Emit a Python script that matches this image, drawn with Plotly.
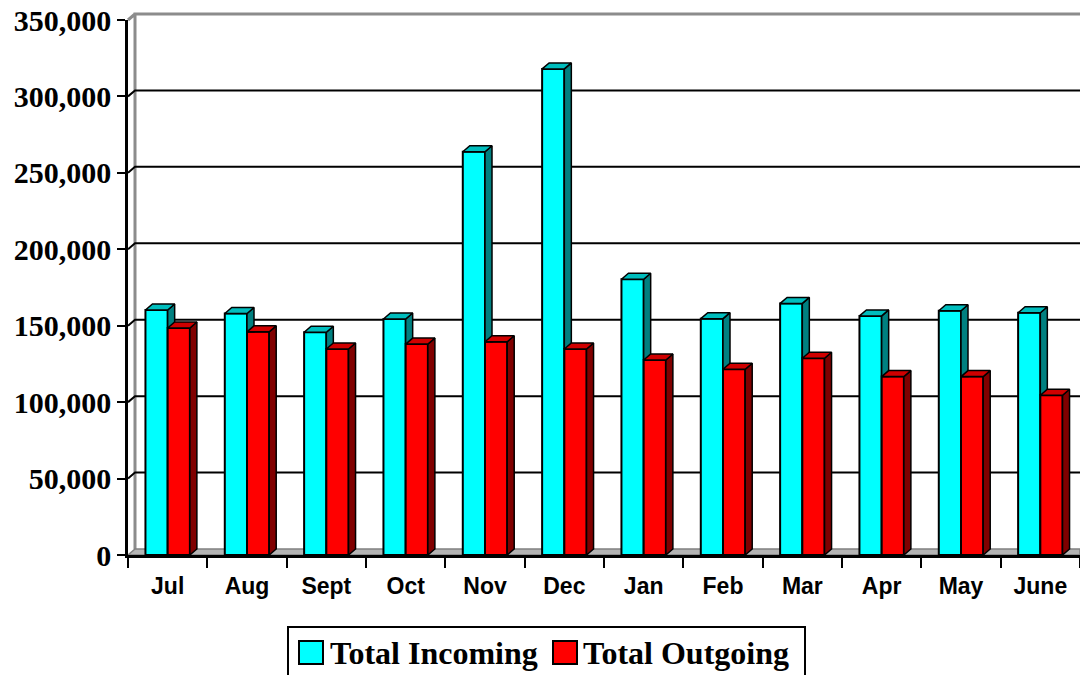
import plotly.graph_objects as go

# ---------------- data ----------------
months = ["Jul", "Aug", "Sept", "Oct", "Nov", "Dec", "Jan", "Feb", "Mar", "Apr", "May", "June"]
total_incoming = [160300, 158000, 145700, 154400, 263800, 318000, 180400, 154600, 164600, 156400, 159800, 158500]
total_outgoing = [148500, 146000, 134800, 138000, 139500, 134800, 127600, 121500, 128700, 116700, 116700, 104500]
y_tick_values = [0, 50000, 100000, 150000, 200000, 250000, 300000, 350000]
series_names = ["Total Incoming", "Total Outgoing"]

# ---------------- geometry ----------------
W, H = 1080, 675
ML, MR, MT, MB = 128, 0, 20, 120
plot_w = W - ML - MR
plot_h = H - MT - MB
n = len(months)
x_range = [-0.5, n - 0.5]
y_range = [0, y_tick_values[-1]]
px_per_x = plot_w / (x_range[1] - x_range[0])
px_per_y = plot_h / (y_range[1] - y_range[0])
DEPTH_X_PX, DEPTH_Y_PX = 7, 6
dx = DEPTH_X_PX / px_per_x
dy = DEPTH_Y_PX / px_per_y
bargap = 0.44
bw = (1 - bargap) / 2
xs = list(range(n))

inc_front, inc_side, inc_top = "#00FFFF", "#008080", "#00BDBD"
out_front, out_side, out_top = "#FF0000", "#800000", "#D00000"

serif = "Liberation Serif, Times New Roman, serif"
sans = "Liberation Sans, Arial, sans-serif"


def px_x(p):  # pixel -> paper x
    return (p - ML) / plot_w


def px_y(p):  # pixel -> paper y
    return (MT + plot_h - p) / plot_h


fig = go.Figure()

fig.add_trace(go.Bar(x=xs, y=total_incoming, offset=-bw, width=bw, name=series_names[0],
                     marker=dict(color=inc_front, line=dict(color="black", width=2))))
fig.add_trace(go.Bar(x=xs, y=total_outgoing, offset=0, width=bw, name=series_names[1],
                     marker=dict(color=out_front, line=dict(color="black", width=2))))


def poly_trace(px, py, color):
    return go.Scatter(x=px, y=py, mode="lines", fill="toself", fillcolor=color,
                      line=dict(color="black", width=1.5), showlegend=False, hoverinfo="skip")


# incoming side faces (only the part not hidden behind the outgoing bar)
sx, sy = [], []
for i, (v, vo) in enumerate(zip(total_incoming, total_outgoing)):
    if v > vo:
        sx += [i, i, i + dx, i + dx, i, None]
        sy += [vo, v, v + dy, vo, vo, None]
fig.add_trace(poly_trace(sx, sy, inc_side))

# incoming top faces
tx, ty = [], []
for i, v in enumerate(total_incoming):
    tx += [i - bw, i, i + dx, i - bw + dx, i - bw, None]
    ty += [v, v, v + dy, v + dy, v, None]
fig.add_trace(poly_trace(tx, ty, inc_top))

# outgoing side faces
sx, sy = [], []
for i, v in enumerate(total_outgoing):
    sx += [i + bw, i + bw, i + bw + dx, i + bw + dx, i + bw, None]
    sy += [0, v, v + dy, dy, 0, None]
fig.add_trace(poly_trace(sx, sy, out_side))

# outgoing top faces
tx, ty = [], []
for i, v in enumerate(total_outgoing):
    tx += [i, i + bw, i + bw + dx, i + dx, i, None]
    ty += [v, v, v + dy, v + dy, v, None]
fig.add_trace(poly_trace(tx, ty, out_top))

shapes = []
# floor
shapes.append(dict(type="path", xref="x", yref="y", layer="below",
                   path=f"M {x_range[0]},0 L {x_range[1]},0 L {x_range[1]},{dy} L {x_range[0] + dx},{dy} Z",
                   fillcolor="#b4b4b4", line=dict(color="#808080", width=1.5)))
# gridlines on the back wall
for v in y_tick_values[1:-1]:
    shapes.append(dict(type="path", xref="x", yref="y", layer="below",
                       path=f"M {x_range[0]},{v} L {x_range[0] + dx},{v + dy} L {x_range[1]},{v + dy}",
                       line=dict(color="black", width=2)))
# back wall frame (gray)
xp = DEPTH_X_PX / plot_w
y0p = DEPTH_Y_PX / plot_h
y1p = 1 + DEPTH_Y_PX / plot_h
shapes.append(dict(type="path", xref="paper", yref="paper", layer="below",
                   path=f"M {xp},{y0p} L {xp},{y1p} L 1,{y1p} M 0,1 L {xp},{y1p}",
                   line=dict(color="#8c8c8c", width=3)))

# ---------------- legend (boxed, below the chart) ----------------
LEG_L, LEG_R, LEG_T, LEG_B = 288, 805, 627, 690
shapes.append(dict(type="rect", xref="paper", yref="paper", layer="above",
                   x0=px_x(LEG_L), x1=px_x(LEG_R), y0=px_y(LEG_B), y1=px_y(LEG_T),
                   line=dict(color="black", width=2), fillcolor="rgba(0,0,0,0)"))
legend_items = [(series_names[0], inc_front, 299, 328), (series_names[1], out_front, 553, 581)]
annotations = []
for name, col, sq_x, txt_x in legend_items:
    shapes.append(dict(type="rect", xref="paper", yref="paper", layer="above",
                       x0=px_x(sq_x), x1=px_x(sq_x + 24), y0=px_y(664), y1=px_y(641),
                       line=dict(color="black", width=2), fillcolor=col))
    annotations.append(dict(xref="paper", yref="paper", x=px_x(txt_x), y=px_y(653),
                            xanchor="left", yanchor="middle", showarrow=False, text=name,
                            font=dict(family=serif, size=32, color="black", weight="bold")))

fig.update_layout(
    width=W, height=H,
    margin=dict(l=ML, r=MR, t=MT, b=MB),
    paper_bgcolor="white", plot_bgcolor="white",
    barmode="overlay",
    shapes=shapes,
    annotations=annotations,
    showlegend=False,
    xaxis=dict(range=x_range, tickmode="array", tickvals=xs, ticktext=months,
               ticks="outside", ticklen=9, tickcolor="rgba(0,0,0,0)",
               tickfont=dict(family=sans, size=23, color="black", weight="bold"),
               showline=True, linecolor="black", linewidth=2.5,
               showgrid=False, zeroline=False, automargin=False,
               minor=dict(tickmode="array", tickvals=[i - 0.5 for i in range(n + 1)],
                          ticks="outside", ticklen=10, tickwidth=2, tickcolor="black", showgrid=False)),
    yaxis=dict(range=y_range, tickmode="array", tickvals=y_tick_values, tickformat=",",
               ticks="outside", ticklen=8, tickwidth=2, tickcolor="black",
               tickfont=dict(family=serif, size=30, color="black", weight="bold"),
               showline=True, linecolor="black", linewidth=2.5,
               showgrid=False, zeroline=False, automargin=False),
)

fig.write_html("out.html")
